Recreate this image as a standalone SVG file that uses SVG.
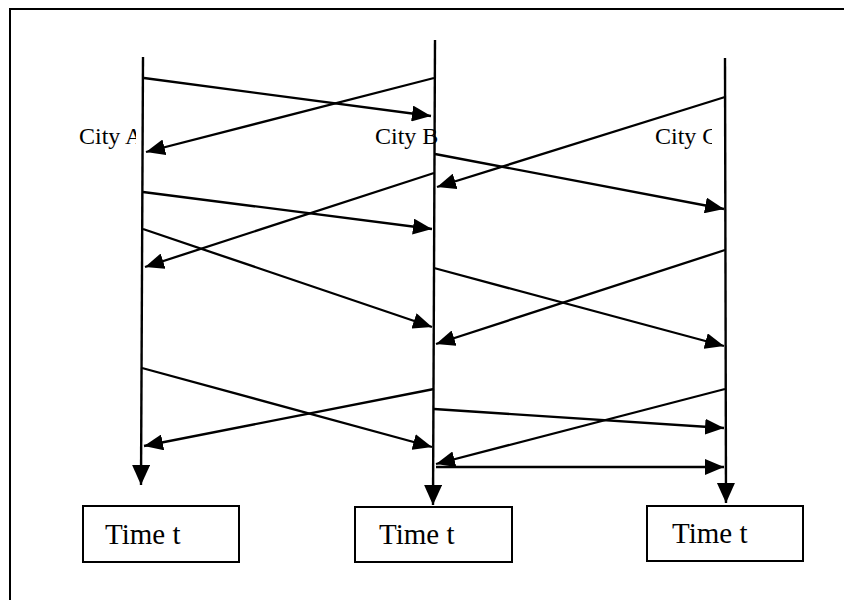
<svg xmlns="http://www.w3.org/2000/svg" width="844" height="600" viewBox="0 0 844 600">
  <style>
    .frame { fill: none; stroke: #000; stroke-width: 2; }
    .life { fill: none; stroke: #000; stroke-width: 2.4; }
    .msg { fill: none; stroke: #000; stroke-width: 2.3; marker-end: url(#head); }
    .box { fill: #fff; stroke: #000; stroke-width: 2; }
    .city { font-family: "Liberation Serif", "Times New Roman", serif; font-size: 24px; fill: #000; }
    .time { font-family: "Liberation Serif", "Times New Roman", serif; font-size: 29px; fill: #000; }
  </style>
  <defs>
    <marker id="head" markerUnits="userSpaceOnUse" markerWidth="20" markerHeight="16" refX="19" refY="8" orient="auto">
      <path d="M0,0 L19,8 L0,16 Z" fill="#000"/>
    </marker>
    <marker id="down" markerUnits="userSpaceOnUse" markerWidth="20" markerHeight="20" refX="20" refY="9" orient="auto">
      <path d="M0,0 L20,9 L0,18 Z" fill="#000"/>
    </marker>
    <clipPath id="clipA"><rect x="0" y="100" width="136" height="60"/></clipPath>
    <clipPath id="clipC"><rect x="600" y="100" width="112" height="60"/></clipPath>
  </defs>

  <rect width="844" height="600" fill="#fff"/>

  <!-- open frame: top and left edges -->
  <path class="frame" d="M10,600 L10,9 L844,9"/>

  <!-- city lifelines -->
  <g id="city-a">
    <text class="city" x="79" y="144" clip-path="url(#clipA)">City A</text>
    <path class="life" d="M143,57 L141,485" marker-end="url(#down)"/>
  </g>
  <g id="city-b">
    <text class="city" x="375" y="144">City B</text>
    <path class="life" d="M435,40 L433,505" marker-end="url(#down)"/>
  </g>
  <g id="city-c">
    <text class="city" x="655" y="144" clip-path="url(#clipC)">City C</text>
    <path class="life" d="M725,58 L726,503" marker-end="url(#down)"/>
  </g>

  <!-- messages between cities -->
  <g id="connectors">
    <line class="msg" x1="144" y1="78" x2="431" y2="116"/>
    <line class="msg" x1="434" y1="78" x2="146" y2="152"/>
    <line class="msg" x1="725" y1="97" x2="437" y2="187"/>
    <line class="msg" x1="435" y1="154" x2="724" y2="209"/>
    <line class="msg" x1="143" y1="192" x2="432" y2="229"/>
    <line class="msg" x1="434" y1="173" x2="145" y2="267"/>
    <line class="msg" x1="143" y1="229" x2="432" y2="327"/>
    <line class="msg" x1="434" y1="268" x2="724" y2="346"/>
    <line class="msg" x1="725" y1="250" x2="436" y2="344"/>
    <line class="msg" x1="142" y1="368" x2="432" y2="447"/>
    <line class="msg" x1="434" y1="389" x2="144" y2="446"/>
    <line class="msg" x1="434" y1="409" x2="724" y2="428"/>
    <line class="msg" x1="725" y1="389" x2="436" y2="464"/>
    <line class="msg" x1="436" y1="467" x2="724" y2="467"/>
  </g>

  <!-- time boxes -->
  <g id="time-a">
    <rect class="box" x="83" y="506" width="156" height="56"/>
    <text class="time" x="105" y="544">Time t</text>
  </g>
  <g id="time-b">
    <rect class="box" x="355" y="507" width="157" height="55"/>
    <text class="time" x="379" y="544">Time t</text>
  </g>
  <g id="time-c">
    <rect class="box" x="647" y="506" width="156" height="55"/>
    <text class="time" x="672" y="543">Time t</text>
  </g>
</svg>
